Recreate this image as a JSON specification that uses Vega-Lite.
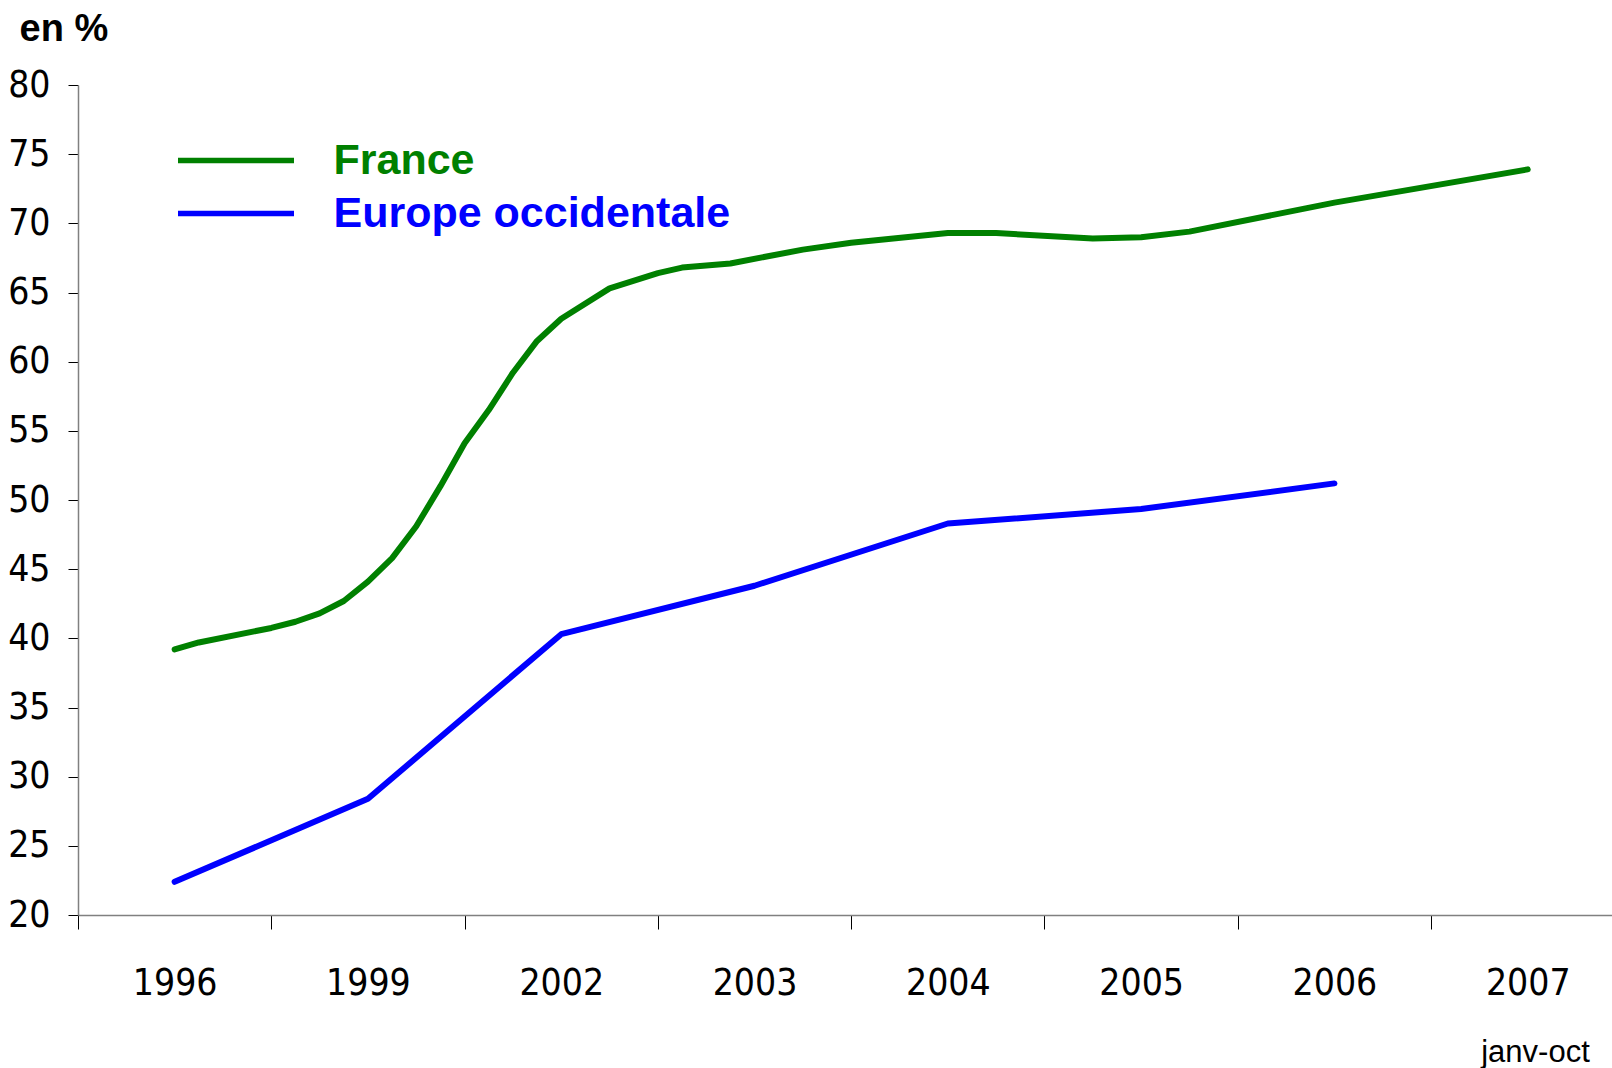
{
  "$schema": "https://vega.github.io/schema/vega-lite/v6.json",
  "width": 1534,
  "height": 830,
  "autosize": {"type": "none"},
  "padding": {"left": 78, "top": 85, "right": 0, "bottom": 153},
  "background": "white",
  "config": {"view": {"stroke": null}},
  "data": {"values": [
    {"series": "France", "idx": 0, "value": 39.2},
    {"series": "France", "idx": 0.125, "value": 39.7},
    {"series": "France", "idx": 0.5, "value": 40.75},
    {"series": "France", "idx": 0.625, "value": 41.2},
    {"series": "France", "idx": 0.75, "value": 41.8},
    {"series": "France", "idx": 0.875, "value": 42.7},
    {"series": "France", "idx": 1.0, "value": 44.1},
    {"series": "France", "idx": 1.125, "value": 45.8},
    {"series": "France", "idx": 1.25, "value": 48.1},
    {"series": "France", "idx": 1.375, "value": 51.0},
    {"series": "France", "idx": 1.5, "value": 54.1},
    {"series": "France", "idx": 1.625, "value": 56.5},
    {"series": "France", "idx": 1.75, "value": 59.2},
    {"series": "France", "idx": 1.875, "value": 61.5},
    {"series": "France", "idx": 2.0, "value": 63.1},
    {"series": "France", "idx": 2.25, "value": 65.3},
    {"series": "France", "idx": 2.5, "value": 66.4},
    {"series": "France", "idx": 2.625, "value": 66.8},
    {"series": "France", "idx": 2.875, "value": 67.1},
    {"series": "France", "idx": 3.25, "value": 68.1},
    {"series": "France", "idx": 3.5, "value": 68.6},
    {"series": "France", "idx": 4.0, "value": 69.3},
    {"series": "France", "idx": 4.25, "value": 69.3},
    {"series": "France", "idx": 4.75, "value": 68.9},
    {"series": "France", "idx": 5.0, "value": 69.0},
    {"series": "France", "idx": 5.25, "value": 69.4},
    {"series": "France", "idx": 6.0, "value": 71.5},
    {"series": "France", "idx": 7.0, "value": 73.9},
    {"series": "Europe occidentale", "idx": 0, "value": 22.4},
    {"series": "Europe occidentale", "idx": 1, "value": 28.4},
    {"series": "Europe occidentale", "idx": 2, "value": 40.3},
    {"series": "Europe occidentale", "idx": 3, "value": 43.8},
    {"series": "Europe occidentale", "idx": 4, "value": 48.3},
    {"series": "Europe occidentale", "idx": 5, "value": 49.35},
    {"series": "Europe occidentale", "idx": 6, "value": 51.2}
  ]},
  "mark": {"type": "line", "strokeWidth": 6, "strokeCap": "round", "strokeJoin": "round"},
  "encoding": {
    "x": {
      "field": "idx", "type": "quantitative",
      "scale": {"domain": [-0.5, 7.436], "nice": false, "zero": false},
      "axis": {
        "values": [0, 1, 2, 3, 4, 5, 6, 7],
        "tickOffset": -96.7,
        "labelOffset": 96.7,
        "tickSize": 14,
        "tickColor": "#000000",
        "tickWidth": 1,
        "domainColor": "#808080",
        "domainWidth": 1.5,
        "grid": false,
        "labelExpr": "['1996','1999','2002','2003','2004','2005','2006','2007'][datum.value]",
        "labelFont": "Liberation Sans Narrow, Arial Narrow, DejaVu Sans Condensed, Liberation Sans, sans-serif",
        "labelFontSize": 37,
        "labelColor": "#000000",
        "labelPadding": 36,
        "labelFlush": false,
        "labelOverlap": false,
        "labelBound": false,
        "title": "janv-oct",
        "titleFont": "Liberation Sans",
        "titleFontSize": 31,
        "titleFontWeight": "normal",
        "titleColor": "#000000",
        "titleX": 1457,
        "titleY": 146,
        "titleAlign": "center",
        "titleBaseline": "alphabetic",
        "titleAnchor": null
      }
    },
    "y": {
      "field": "value", "type": "quantitative",
      "scale": {"domain": [20, 80], "nice": false, "zero": false},
      "axis": {
        "values": [20, 25, 30, 35, 40, 45, 50, 55, 60, 65, 70, 75, 80],
        "tickSize": 10,
        "tickColor": "#000000",
        "domainColor": "#808080",
        "domainWidth": 1.5,
        "grid": false,
        "labelFont": "Liberation Sans Narrow, Arial Narrow, DejaVu Sans Condensed, Liberation Sans, sans-serif",
        "labelFontSize": 37,
        "labelColor": "#000000",
        "labelPadding": 18,
        "labelFlush": false,
        "labelOverlap": false,
        "labelBound": false,
        "title": "en %",
        "titleFont": "Liberation Sans",
        "titleFontSize": 38,
        "titleFontWeight": "bold",
        "titleColor": "#000000",
        "titleAngle": 0,
        "titleX": -59,
        "titleY": -44.5,
        "titleAlign": "left",
        "titleBaseline": "alphabetic",
        "titleAnchor": null
      }
    },
    "color": {
      "field": "series", "type": "nominal",
      "scale": {"domain": ["France", "Europe occidentale"], "range": ["#008000", "#0000ff"]},
      "legend": {
        "orient": "none",
        "legendX": 136.5,
        "legendY": 54,
        "title": null,
        "symbolType": "M-4,0H4",
        "symbolSize": 841,
        "symbolStrokeWidth": 5.5,
        "symbolFillColor": "transparent",
        "labelFont": "Liberation Sans",
        "labelFontSize": 43,
        "labelFontWeight": "bold",
        "labelOffset": 76,
        "labelLimit": 0,
        "rowPadding": 9,
        "padding": 0,
        "labelColor": {"expr": "datum.value === 'France' ? '#008000' : '#0000ff'"}
      }
    }
  }
}
